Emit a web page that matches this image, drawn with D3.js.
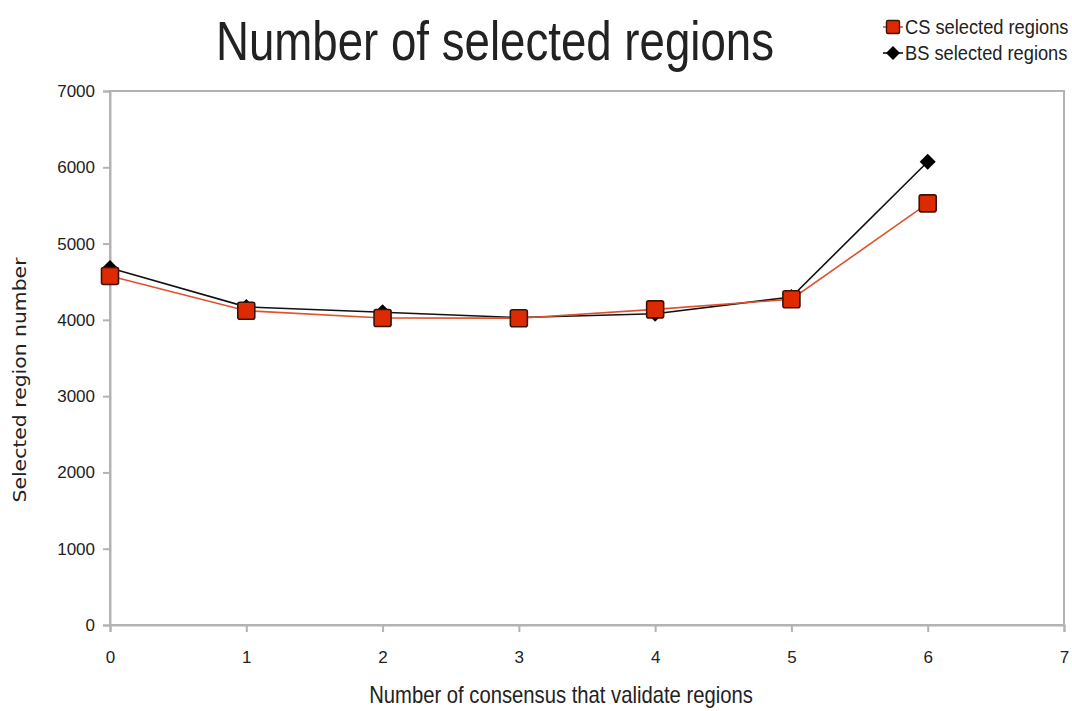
<!DOCTYPE html>
<html>
<head>
<meta charset="utf-8">
<script src="https://cdn.jsdelivr.net/npm/d3@7"></script>
<style>
  body { margin: 0; background: #fff; }
  svg { display: block; }
  text { font-family: "Liberation Sans Narrow", "Liberation Sans", Arial, sans-serif; fill: #222; }
</style>
</head>
<body>
<svg id="chart" width="1072" height="711"></svg>
<script>
// Consensus counts on the x axis and the two region series
const consensusCounts = [0, 1, 2, 3, 4, 5, 6];
const csSelected = [4575, 4120, 4024, 4022, 4137, 4270, 5527];
const bsSelected = [4680, 4170, 4100, 4030, 4080, 4300, 6072];
const xTicks = [0, 1, 2, 3, 4, 5, 6, 7];
const yTicks = [0, 1000, 2000, 3000, 4000, 5000, 6000, 7000];

const svg = d3.select("#chart");
const plot = { left: 110, right: 1064, top: 91, bottom: 625 };

const x = d3.scaleLinear().domain([0, 7]).range([plot.left, plot.right]);
const y = d3.scaleLinear().domain([0, 7000]).range([plot.bottom, plot.top]);

const axisColor = "#b3b3b3";

// Condensed text: draw at a given size, squeezed horizontally
function narrowText(g, px, py, size, scaleX, anchor, str) {
  return g.append("text")
    .attr("transform", `translate(${px},${py}) scale(${scaleX},1)`)
    .attr("text-anchor", anchor)
    .attr("font-size", size)
    .text(str);
}

// Frame around plot area
svg.append("rect")
  .attr("x", plot.left).attr("y", plot.top)
  .attr("width", plot.right - plot.left).attr("height", plot.bottom - plot.top)
  .attr("fill", "none").attr("stroke", axisColor).attr("stroke-width", 2);

// Axes
const yAxis = svg.append("g")
  .attr("transform", `translate(${plot.left},0)`)
  .call(d3.axisLeft(y).tickValues(yTicks).tickSize(7).tickPadding(8).tickFormat(d3.format("d")));
const xAxis = svg.append("g")
  .attr("transform", `translate(0,${plot.bottom})`)
  .call(d3.axisBottom(x).tickValues(xTicks).tickSize(7).tickPadding(22).tickFormat(d3.format("d")));

[yAxis, xAxis].forEach(g => {
  g.select(".domain").attr("stroke", axisColor).attr("stroke-width", 2);
  g.selectAll(".tick line").attr("stroke", axisColor).attr("stroke-width", 2);
  g.selectAll(".tick text")
    .attr("font-size", 17)
    .attr("fill", "#222")
    .style("font-family", "'Liberation Sans', sans-serif");
});
xAxis.selectAll(".tick text").attr("dy", "0.5em");

// Title
narrowText(svg, 495, 60, 55, 0.83, "middle", "Number of selected regions");

// Axis titles
narrowText(svg, 561, 703, 23, 0.88, "middle", "Number of consensus that validate regions");

svg.append("text")
  .attr("transform", "translate(26,380) rotate(-90)")
  .attr("text-anchor", "middle")
  .attr("font-size", 17)
  .attr("textLength", 245)
  .attr("lengthAdjust", "spacingAndGlyphs")
  .style("font-family", "'DejaVu Sans', sans-serif")
  .text("Selected region number");

const line = d3.line().x((d, i) => x(consensusCounts[i])).y(d => y(d));

const csColor = "#dd2a00";
const csStroke = "#3a1206";
const csLine = "#e0512e";

// BS series (beneath)
svg.append("path")
  .datum(bsSelected)
  .attr("d", line)
  .attr("fill", "none").attr("stroke", "#111").attr("stroke-width", 1.6);

// CS series line
svg.append("path")
  .datum(csSelected)
  .attr("d", line)
  .attr("fill", "none").attr("stroke", csLine).attr("stroke-width", 1.6);

const diamond = s => `M0,${-s}L${s},0L0,${s}L${-s},0Z`;

svg.append("g").selectAll("path")
  .data(bsSelected)
  .join("path")
  .attr("transform", (d, i) => `translate(${x(consensusCounts[i])},${y(d)})`)
  .attr("d", diamond(8))
  .attr("fill", "#000");

svg.append("g").selectAll("rect")
  .data(csSelected)
  .join("rect")
  .attr("x", (d, i) => x(consensusCounts[i]) - 8.5)
  .attr("y", d => y(d) - 8.5)
  .attr("width", 17).attr("height", 17)
  .attr("rx", 2)
  .attr("fill", csColor)
  .attr("stroke", csStroke).attr("stroke-width", 1.6);

// Legend
const legend = svg.append("g");
const items = [
  { label: "CS selected regions", y: 27, kind: "cs" },
  { label: "BS selected regions", y: 53, kind: "bs" }
];
items.forEach(it => {
  const g = legend.append("g").attr("transform", `translate(893,${it.y})`);
  g.append("line").attr("x1", -10).attr("x2", 10).attr("y1", 0).attr("y2", 0)
    .attr("stroke", it.kind === "cs" ? csLine : "#111").attr("stroke-width", 1.6);
  if (it.kind === "cs") {
    g.append("rect").attr("x", -6.5).attr("y", -6.5).attr("width", 13).attr("height", 13)
      .attr("rx", 1.5).attr("fill", csColor).attr("stroke", csStroke).attr("stroke-width", 1.4);
  } else {
    g.append("path").attr("d", diamond(7)).attr("fill", "#000");
  }
  narrowText(g, 12, 7, 21, 0.87, "start", it.label);
});
</script>
</body>
</html>
